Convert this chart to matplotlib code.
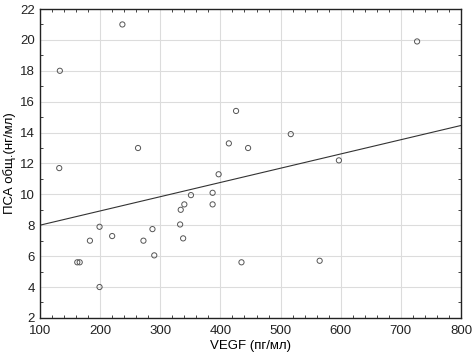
import numpy as np
import matplotlib
matplotlib.use("Agg")
import matplotlib.pyplot as plt
from matplotlib.ticker import MultipleLocator

vegf = [133, 132, 237, 263, 426, 414, 397, 727, 446, 517, 597,
        199, 183, 220, 162, 166, 199, 272, 287, 290, 333, 334, 340,
        338, 351, 387, 387, 435, 565]
psa = [18.0, 11.7, 21.0, 13.0, 15.4, 13.3, 11.3, 19.9, 13.0, 13.9, 12.2,
       7.9, 7.0, 7.3, 5.6, 5.6, 4.0, 7.0, 7.75, 6.05, 8.05, 9.0, 9.35,
       7.15, 9.95, 10.1, 9.35, 5.6, 5.7]

x_ticks = [100, 200, 300, 400, 500, 600, 700, 800]
y_ticks = [2, 4, 6, 8, 10, 12, 14, 16, 18, 20, 22]

slope, intercept = np.polyfit(vegf, psa, 1)

plt.rcParams['font.family'] = ['Liberation Sans', 'DejaVu Sans']
fig = plt.figure(figsize=(4.75, 3.56), dpi=100)
ax = fig.add_axes([0.0842, 0.107, 0.8863, 0.8677])

ax.grid(True, color='#dcdcdc', linewidth=0.8, linestyle='-')
ax.set_axisbelow(True)
ax.scatter(vegf, psa, s=14, facecolors='none', edgecolors='#555555', linewidths=0.7, zorder=3)
xl = np.array([100, 800])
ax.plot(xl, intercept + slope * xl, color='#333333', linewidth=0.8, zorder=2)

ax.set_xlim(100, 800)
ax.set_ylim(2, 22)
ax.set_xticks(x_ticks)
ax.set_yticks(y_ticks)
ax.xaxis.set_minor_locator(MultipleLocator(20))
ax.yaxis.set_minor_locator(MultipleLocator(1))
ax.tick_params(which='both', direction='in', top=True, right=True, labelsize=9.5, colors='#222222')
ax.tick_params(which='major', length=0)
ax.tick_params(which='minor', length=2.5)
ax.tick_params(axis='x', which='major', pad=5)
for s in ax.spines.values():
    s.set_linewidth(1.0)
    s.set_color('#222222')

ax.set_xlabel('VEGF (пг/мл)', fontsize=9.5, labelpad=2)
ax.set_ylabel('ПСА общ.(нг/мл)', fontsize=9.5, labelpad=3)

fig.savefig('out.png', dpi=100)
